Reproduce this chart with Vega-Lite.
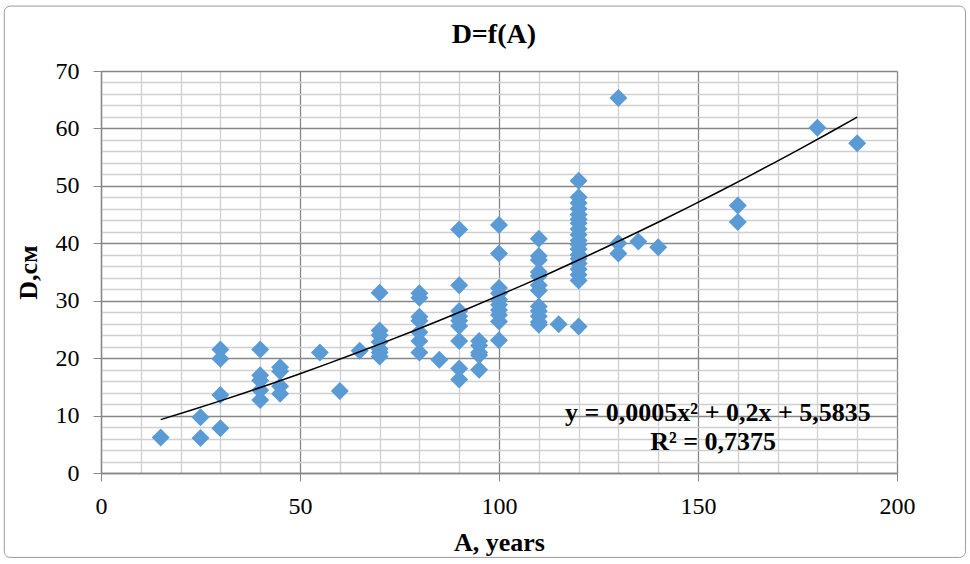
{
  "$schema": "https://vega.github.io/schema/vega-lite/v6.json",
  "width": 796,
  "height": 402,
  "autosize": {"type": "none"},
  "padding": {"left": 101, "top": 71, "right": 73, "bottom": 91},
  "background": "white",
  "config": {"view": {"stroke": null}, "font": "Liberation Serif"},
  "data": {"values": [
    {"A": 15, "D": 6.2},
    {"A": 25, "D": 6.1}, {"A": 25, "D": 9.7},
    {"A": 30, "D": 7.8}, {"A": 30, "D": 13.6}, {"A": 30, "D": 19.9}, {"A": 30, "D": 21.5},
    {"A": 40, "D": 12.7}, {"A": 40, "D": 14.4}, {"A": 40, "D": 16.1}, {"A": 40, "D": 17.0}, {"A": 40, "D": 21.5},
    {"A": 45, "D": 13.8}, {"A": 45, "D": 15.1}, {"A": 45, "D": 17.7}, {"A": 45, "D": 18.4},
    {"A": 55, "D": 21.0},
    {"A": 60, "D": 14.3},
    {"A": 65, "D": 21.3},
    {"A": 70, "D": 20.3}, {"A": 70, "D": 21.0}, {"A": 70, "D": 21.6}, {"A": 70, "D": 22.8}, {"A": 70, "D": 24.0}, {"A": 70, "D": 24.8}, {"A": 70, "D": 31.4},
    {"A": 80, "D": 21.0}, {"A": 80, "D": 23.0}, {"A": 80, "D": 24.5}, {"A": 80, "D": 26.5}, {"A": 80, "D": 27.2}, {"A": 80, "D": 30.5}, {"A": 80, "D": 31.3},
    {"A": 85, "D": 19.7},
    {"A": 90, "D": 16.3}, {"A": 90, "D": 18.2}, {"A": 90, "D": 23.0}, {"A": 90, "D": 25.6}, {"A": 90, "D": 26.5}, {"A": 90, "D": 27.3}, {"A": 90, "D": 28.2}, {"A": 90, "D": 32.7}, {"A": 90, "D": 42.4},
    {"A": 95, "D": 18.0}, {"A": 95, "D": 20.5}, {"A": 95, "D": 21.0}, {"A": 95, "D": 22.2}, {"A": 95, "D": 23.0},
    {"A": 100, "D": 23.1}, {"A": 100, "D": 26.4}, {"A": 100, "D": 27.5}, {"A": 100, "D": 28.4}, {"A": 100, "D": 29.3}, {"A": 100, "D": 30.2}, {"A": 100, "D": 31.3}, {"A": 100, "D": 32.2}, {"A": 100, "D": 38.2}, {"A": 100, "D": 43.2},
    {"A": 110, "D": 25.8}, {"A": 110, "D": 26.3}, {"A": 110, "D": 27.3}, {"A": 110, "D": 28.2}, {"A": 110, "D": 29.0}, {"A": 110, "D": 31.8}, {"A": 110, "D": 32.7}, {"A": 110, "D": 34.3}, {"A": 110, "D": 35.0}, {"A": 110, "D": 37.1}, {"A": 110, "D": 37.8}, {"A": 110, "D": 40.8},
    {"A": 115, "D": 25.9},
    {"A": 120, "D": 25.5}, {"A": 120, "D": 33.5}, {"A": 120, "D": 34.5}, {"A": 120, "D": 35.5}, {"A": 120, "D": 36.5}, {"A": 120, "D": 37.3}, {"A": 120, "D": 38.0}, {"A": 120, "D": 39.0}, {"A": 120, "D": 39.8}, {"A": 120, "D": 40.5}, {"A": 120, "D": 41.5}, {"A": 120, "D": 42.5}, {"A": 120, "D": 43.5}, {"A": 120, "D": 44.2}, {"A": 120, "D": 45.0}, {"A": 120, "D": 46.0}, {"A": 120, "D": 47.0}, {"A": 120, "D": 48.0}, {"A": 120, "D": 50.9},
    {"A": 130, "D": 38.2}, {"A": 130, "D": 40.0}, {"A": 130, "D": 65.3},
    {"A": 135, "D": 40.3},
    {"A": 140, "D": 39.3},
    {"A": 160, "D": 43.7}, {"A": 160, "D": 46.6},
    {"A": 180, "D": 60.1},
    {"A": 190, "D": 57.4}
  ]},
  "layer": [
    {
      "data": {"values": [{}]},
      "mark": {"type": "rect", "fill": null, "stroke": "#9a9a9a", "strokeWidth": 1, "cornerRadius": 6},
      "encoding": {
        "x": {"datum": -24.3, "type": "quantitative"},
        "x2": {"datum": 217.2},
        "y": {"datum": 81.3, "type": "quantitative"},
        "y2": {"datum": -14.7}
      }
    },
    {
      "mark": {"type": "point", "shape": "diamond", "filled": true, "size": 324, "color": "#5B9BD5", "opacity": 1, "strokeWidth": 0},
      "encoding": {
        "x": {
          "field": "A", "type": "quantitative",
          "scale": {"domain": [0, 200], "nice": false, "zero": false},
          "axis": {
            "values": [0, 10, 20, 30, 40, 50, 60, 70, 80, 90, 100, 110, 120, 130, 140, 150, 160, 170, 180, 190, 200],
            "tickCount": 500,
            "format": "d",
            "title": "A, years",
            "titleFont": "Liberation Serif", "titleFontSize": 26, "titleFontWeight": "bold", "titleColor": "#000000", "titlePadding": 11,
            "labelFont": "Liberation Serif", "labelFontSize": 24, "labelColor": "#000000", "labelPadding": 13,
            "labelExpr": "datum.value % 50 === 0 ? datum.label : ''",
            "labelOverlap": false, "labelFlush": false, "labelBound": false,
            "tickSize": 8,
            "tickColor": {"condition": {"test": "datum.value % 50 === 0", "value": "#878787"}, "value": "transparent"},
            "grid": true,
            "gridColor": {"condition": {"test": "datum.value % 50 === 0", "value": "#878787"}, "value": "#d0d0d0"},
            "gridWidth": 1.3,
            "domainColor": "#878787", "domainWidth": 1.3
          }
        },
        "y": {
          "field": "D", "type": "quantitative",
          "scale": {"domain": [0, 70], "nice": false, "zero": true},
          "axis": {
            "values": [0, 2, 4, 6, 8, 10, 12, 14, 16, 18, 20, 22, 24, 26, 28, 30, 32, 34, 36, 38, 40, 42, 44, 46, 48, 50, 52, 54, 56, 58, 60, 62, 64, 66, 68, 70],
            "tickCount": 500,
            "format": "d",
            "title": "D,см",
            "titleFont": "Liberation Serif", "titleFontSize": 26, "titleFontWeight": "bold", "titleColor": "#000000", "titlePadding": 14,
            "labelFont": "Liberation Serif", "labelFontSize": 24, "labelColor": "#000000", "labelPadding": 14,
            "labelExpr": "datum.value % 10 === 0 ? datum.label : ''",
            "labelOverlap": false, "labelBound": false, "labelFlush": false,
            "tickSize": 8,
            "tickColor": {"condition": {"test": "datum.value % 10 === 0", "value": "#878787"}, "value": "transparent"},
            "grid": true,
            "gridColor": {"condition": {"test": "datum.value % 10 === 0", "value": "#878787"}, "value": "#d0d0d0"},
            "gridWidth": 1.3,
            "domainColor": "#878787", "domainWidth": 1.3
          }
        }
      }
    },
    {
      "transform": [{"regression": "D", "on": "A", "method": "poly", "order": 2}],
      "mark": {"type": "line", "color": "#000000", "strokeWidth": 1.5},
      "encoding": {
        "x": {"field": "A", "type": "quantitative"},
        "y": {"field": "D", "type": "quantitative"}
      }
    },
    {
      "data": {"values": [{}]},
      "mark": {"type": "text", "text": "D=f(A)", "font": "Liberation Serif", "fontSize": 28, "fontWeight": "bold", "align": "center", "baseline": "middle", "color": "#000000"},
      "encoding": {"x": {"datum": 98.7, "type": "quantitative"}, "y": {"datum": 76.2, "type": "quantitative"}}
    },
    {
      "data": {"values": [{}]},
      "mark": {"type": "text", "text": "y = 0,0005x² + 0,2x + 5,5835", "font": "Liberation Serif", "fontSize": 26, "fontWeight": "bold", "align": "center", "baseline": "middle", "color": "#000000"},
      "encoding": {"x": {"datum": 155, "type": "quantitative"}, "y": {"datum": 10.5, "type": "quantitative"}}
    },
    {
      "data": {"values": [{}]},
      "mark": {"type": "text", "text": "R² = 0,7375", "font": "Liberation Serif", "fontSize": 26, "fontWeight": "bold", "align": "center", "baseline": "middle", "color": "#000000"},
      "encoding": {"x": {"datum": 153.8, "type": "quantitative"}, "y": {"datum": 5.4, "type": "quantitative"}}
    }
  ]
}
